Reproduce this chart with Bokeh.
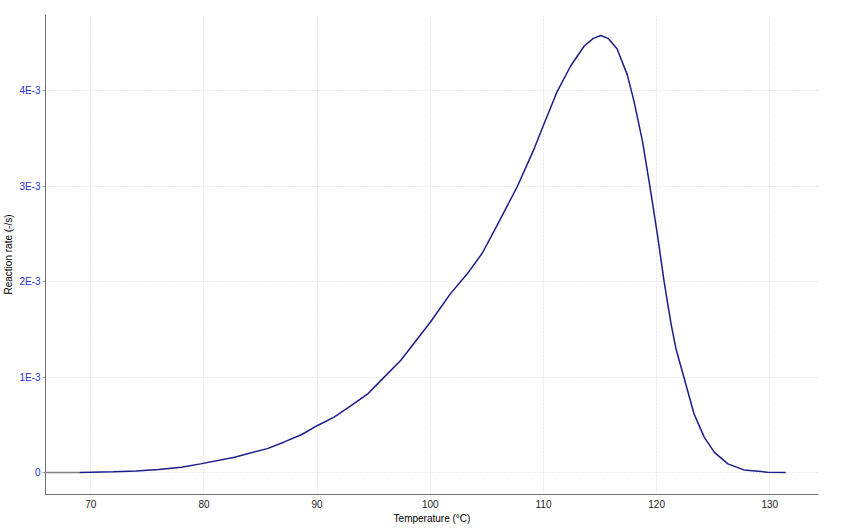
from bokeh.plotting import figure
from bokeh.models import FixedTicker, Range1d
from bokeh.embed import file_html
from bokeh.resources import INLINE

temperature = [69.0, 70.0, 72.0, 74.0, 76.0, 78.0, 79.7, 82.7, 85.6, 87.1, 88.6, 90.0,
               91.5, 93.0, 94.5, 95.6, 97.4, 100.0, 101.8, 103.3, 104.6, 105.9, 107.7,
               109.2, 109.9, 111.2, 112.4, 113.6, 114.4, 115.06, 115.7, 116.5, 117.4,
               118.0, 118.75, 119.4, 120.07, 120.66, 120.96, 121.3, 121.7, 122.4, 123.3,
               124.2, 125.1, 126.3, 127.7, 129.8, 131.4]
rate = [0.0, 0.003e-3, 0.008e-3, 0.015e-3, 0.03e-3, 0.055e-3, 0.09e-3, 0.16e-3, 0.25e-3,
        0.32e-3, 0.395e-3, 0.49e-3, 0.58e-3, 0.70e-3, 0.827e-3, 0.96e-3, 1.176e-3,
        1.575e-3, 1.877e-3, 2.087e-3, 2.30e-3, 2.59e-3, 3.0e-3, 3.40e-3, 3.61e-3,
        3.99e-3, 4.26e-3, 4.47e-3, 4.55e-3, 4.58e-3, 4.55e-3, 4.44e-3, 4.17e-3, 3.89e-3,
        3.47e-3, 3.0e-3, 2.49e-3, 2.0e-3, 1.78e-3, 1.54e-3, 1.30e-3, 1.0e-3, 0.615e-3,
        0.37e-3, 0.21e-3, 0.09e-3, 0.027e-3, 0.003e-3, 0.0]
baseline_t = [66.0, 69.0]
baseline_r = [0.0, 0.0]

x_ticks = [70, 80, 90, 100, 110, 120, 130]
y_ticks = [0.0, 1e-3, 2e-3, 3e-3, 4e-3]
y_tick_labels = ["0", "1E-3", "2E-3", "3E-3", "4E-3"]

p = figure(width=830, height=526, output_backend="svg", toolbar_location=None,
           x_range=Range1d(66.0, 134.3), y_range=Range1d(-0.000231, 4.8e-3),
           min_border_left=30, min_border_top=14, min_border_right=12, min_border_bottom=30)
p.outline_line_color = None
p.background_fill_color = "white"
p.border_fill_color = "white"

p.line(baseline_t, baseline_r, line_color="#808080", line_width=1.5)
p.line(temperature, rate, line_color="#1c1c8a", line_width=1.5)

p.xaxis.ticker = FixedTicker(ticks=x_ticks)
p.yaxis.ticker = FixedTicker(ticks=y_ticks)
p.yaxis.major_label_overrides = {t: l for t, l in zip(y_ticks, y_tick_labels)}

for ax in (p.xaxis, p.yaxis):
    ax.axis_line_color = "#707070"
    ax.axis_line_width = 1
    ax.minor_tick_line_color = None
    ax.major_label_text_font = "Liberation Sans"
    ax.major_label_text_font_size = "10px"
    ax.axis_label_text_font = "Liberation Sans"
    ax.axis_label_text_font_size = "10px"
    ax.axis_label_text_font_style = "normal"
    ax.axis_label_text_color = "black"

p.xaxis.major_tick_line_color = None
p.xaxis.major_tick_out = 0
p.xaxis.major_tick_in = 0
p.xaxis.major_label_text_color = "#222222"
p.xaxis.major_label_standoff = 5
p.xaxis.axis_label = "Temperature (°C)"
p.xaxis.axis_label_standoff = 2

p.yaxis.major_tick_line_color = "#a0a0a0"
p.yaxis.major_tick_out = 3
p.yaxis.major_tick_in = 0
p.yaxis.major_label_text_color = "#2a2ad0"
p.yaxis.major_label_standoff = 2
p.yaxis.axis_label = "Reaction rate (-/s)"
p.yaxis.axis_label_standoff = 2

for g in (p.xgrid, p.ygrid):
    g.grid_line_color = "#d8d8d8"
    g.grid_line_dash = "1 2"
    g.grid_line_width = 1

open("out.html", "w").write(file_html(p, INLINE))
